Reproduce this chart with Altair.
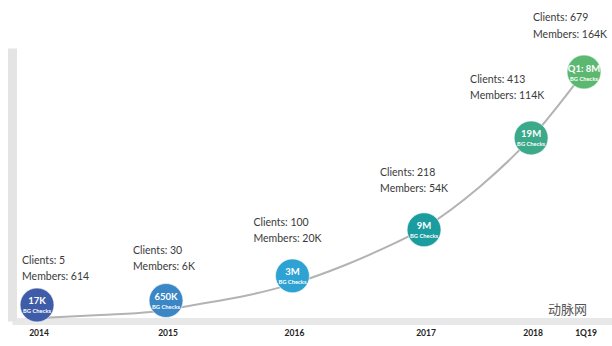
import altair as alt
import pandas as pd

# ---- data ----
periods = ["2014", "2015", "2016", "2017", "2018", "1Q19"]
period_pos = [0.0, 1.0, 1.98, 3.0, 3.83, 4.24]          # position along the timeline
bubble_level = [5.0, 6.4, 14.1, 28.5, 57.2, 77.8]        # height of each bubble
bubble_main = ["17K", "650K", "3M", "9M", "19M", "Q1: 8M"]
bubble_sub = ["BG Checks"] * 6
clients = [5, 30, 100, 218, 413, 679]
members = ["614", "6K", "20K", "54K", "114K", "164K"]
bubble_colors = ["#3f5ca8", "#3b86c5", "#2ea2d3", "#1b9c9e", "#3ba98a", "#5cb870"]

curve_pos = [0.0, 0.49, 0.88, 1.26, 1.57, 1.98, 2.39, 2.66, 3.0, 3.43, 3.83, 4.24]
curve_level = [0.9, 1.9, 2.8, 5.3, 7.5, 11.6, 17.5, 22.2, 29.1, 41.9, 57.2, 77.8]

df = pd.DataFrame({
    "period": periods,
    "t": period_pos,
    "level": bubble_level,
    "main": bubble_main,
    "sub": bubble_sub,
    "clients": ["Clients: %d" % c for c in clients],
    "members": ["Members: " + m for m in members],
    "color": bubble_colors,
})
curve_df = pd.DataFrame({"t": curve_pos, "level": curve_level})

xs = alt.Scale(domain=[-0.194, 4.457], nice=False, zero=False)
ys = alt.Scale(domain=[0, 85.3], nice=False, zero=False)

X = alt.X("t:Q", scale=xs, axis=alt.Axis(labels=False, ticks=False, grid=False, title=None,
                                          domain=True, domainColor="#e8e8e8", domainWidth=7,
                                          domainCap="butt"))
Y = alt.Y("level:Q", scale=ys, axis=alt.Axis(labels=False, ticks=False, grid=False, title=None,
                                              domain=True, domainColor="#e4e4e4", domainWidth=9,
                                              domainCap="butt"))

curve = alt.Chart(curve_df).mark_line(
    color="#b3b3b3", strokeWidth=2, interpolate="monotone"
).encode(x=X, y=Y)

base = alt.Chart(df)

bubbles = base.mark_circle(size=1150, opacity=1, stroke="#ffffff", strokeWidth=1, strokeOpacity=0.6).encode(
    x=alt.X("t:Q", scale=xs),
    y=alt.Y("level:Q", scale=ys),
    color=alt.Color("color:N", scale=None),
)

main_text = base.mark_text(
    font="Lato", fontSize=9.5, fontWeight="bold", color="white", dy=-3.5
).encode(x=alt.X("t:Q", scale=xs), y=alt.Y("level:Q", scale=ys), text="main:N")

sub_text = base.mark_text(
    font="Lato", fontSize=5.8, fontWeight="bold", color="white", dy=6.5
).encode(x=alt.X("t:Q", scale=xs), y=alt.Y("level:Q", scale=ys), text="sub:N")

year_text = base.mark_text(
    font="Lato", fontSize=8.5, fontWeight="bold", color="#222222", dx=2
).encode(x=alt.X("t:Q", scale=xs), y=alt.value(285), text="period:N")

# annotation offsets (pixels from bubble centre): left edge, first line middle
offsets = [(-15, -44), (-33, -50), (-39, -53), (-44, -57), (-61, -58), (-51, -54)]
label_layers = []
for i, (dx, dy) in enumerate(offsets):
    row = df.iloc[[i]]
    for field, extra in (("clients", 0), ("members", 16.5)):
        label_layers.append(
            alt.Chart(row).mark_text(
                font="Lato", fontSize=10.5, color="#3a3a3a", align="left",
                baseline="middle", dx=dx, dy=dy + extra
            ).encode(x=alt.X("t:Q", scale=xs), y=alt.Y("level:Q", scale=ys), text=f"{field}:N")
        )

watermark = alt.Chart(pd.DataFrame({"w": ["动脉网"]})).mark_text(
    font="Noto Sans CJK SC", fontSize=13, color="#555555", align="left", baseline="middle"
).encode(x=alt.value(536), y=alt.value(262), text="w:N")

chart = alt.layer(
    curve, bubbles, main_text, sub_text, year_text, *label_layers, watermark
).properties(
    width=600, height=273,
    padding={"left": 12, "top": 48, "right": 0, "bottom": 25},
    autosize="none",
    background="white",
).configure_view(stroke=None)

chart.save("out.html", embed_options={"renderer": "svg", "actions": False})
